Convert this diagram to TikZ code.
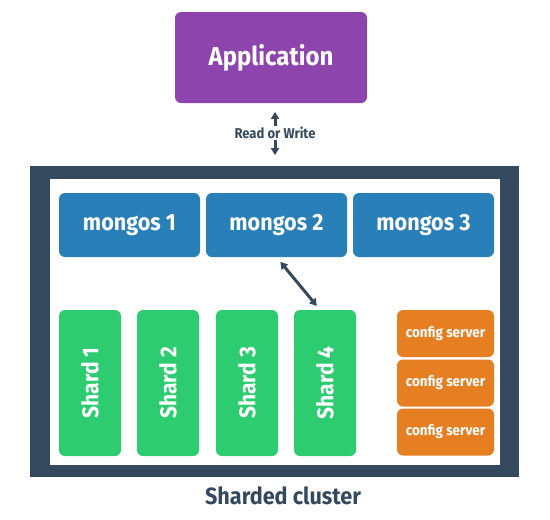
\documentclass[tikz,border=0pt]{standalone}
\usepackage{fontspec}
\setmainfont{Fira Sans}[FakeStretch=0.92]
\usetikzlibrary{arrows.meta}
\definecolor{apppurple}{HTML}{8E44AD}
\definecolor{mongosblue}{HTML}{2980B9}
\definecolor{shardgreen}{HTML}{2ECC71}
\definecolor{cfgorange}{HTML}{E67E22}
\definecolor{framedark}{HTML}{34495E}
\tikzset{
  box/.style={rounded corners=6pt, text=white, font=\bfseries, inner sep=0pt},
  mongosbox/.style={box, fill=mongosblue, minimum width=141pt, minimum height=64pt, font=\bfseries\fontsize{23.5}{26}\selectfont},
  shardbox/.style={box, fill=shardgreen, minimum width=62pt, minimum height=146pt},
  cfgbox/.style={box, fill=cfgorange, minimum width=97pt, minimum height=47pt, font=\bfseries\fontsize{14.6}{17}\selectfont},
  rwarrow/.style={framedark, line width=3pt, -{Triangle[length=7pt,width=8pt]}}
}
\begin{document}
\begin{tikzpicture}[x=1pt,y=-1pt]
\useasboundingbox (0,0) rectangle (550,520);
\node[box, fill=apppurple, minimum width=192pt, minimum height=91pt, font=\bfseries\fontsize{26}{29}\selectfont] (app) at (271,57.5) {Application};
\node[text=framedark, font=\bfseries\fontsize{14.2}{16}\selectfont, inner sep=1pt] (rw) at (275,133) {Read or Write};
% cluster frame
\node[fill=framedark, minimum width=489pt, minimum height=311pt, inner sep=0pt] (cluster) at (274.5,321.5) {};
\fill[white] (50,179) rectangle (500,465);
\node[text=framedark, font=\bfseries\fontsize{23.5}{26}\selectfont] (label) at (283,496) {Sharded cluster};
\draw[rwarrow] (rw.north) -- ++(0,-14);
\draw[rwarrow] (rw.south) -- ++(0,15);
% mongos routers
\node[mongosbox] (m1) at (129.5,225) {mongos 1};
\node[mongosbox] (m2) at (276.5,225) {mongos 2};
\node[mongosbox] (m3) at (423.5,225) {mongos 3};
% shards
\foreach \i/\x in {1/90,2/168,3/247,4/325}
  \node[shardbox] (s\i) at (\x,383) {\rotatebox{90}{\bfseries\fontsize{22.8}{25}\selectfont Shard \i}};
% config servers
\foreach \i/\y in {1/333.5,2/383,3/432}
  \node[cfgbox] (c\i) at (445.5,\y) {config server};
\draw[framedark, line width=3pt, {Triangle[length=7pt,width=8pt]}-{Triangle[length=7pt,width=8pt]}, shorten <=6pt, shorten >=5pt] (m2.south) -- ([xshift=-5pt]s4.north);
\end{tikzpicture}
\end{document}
